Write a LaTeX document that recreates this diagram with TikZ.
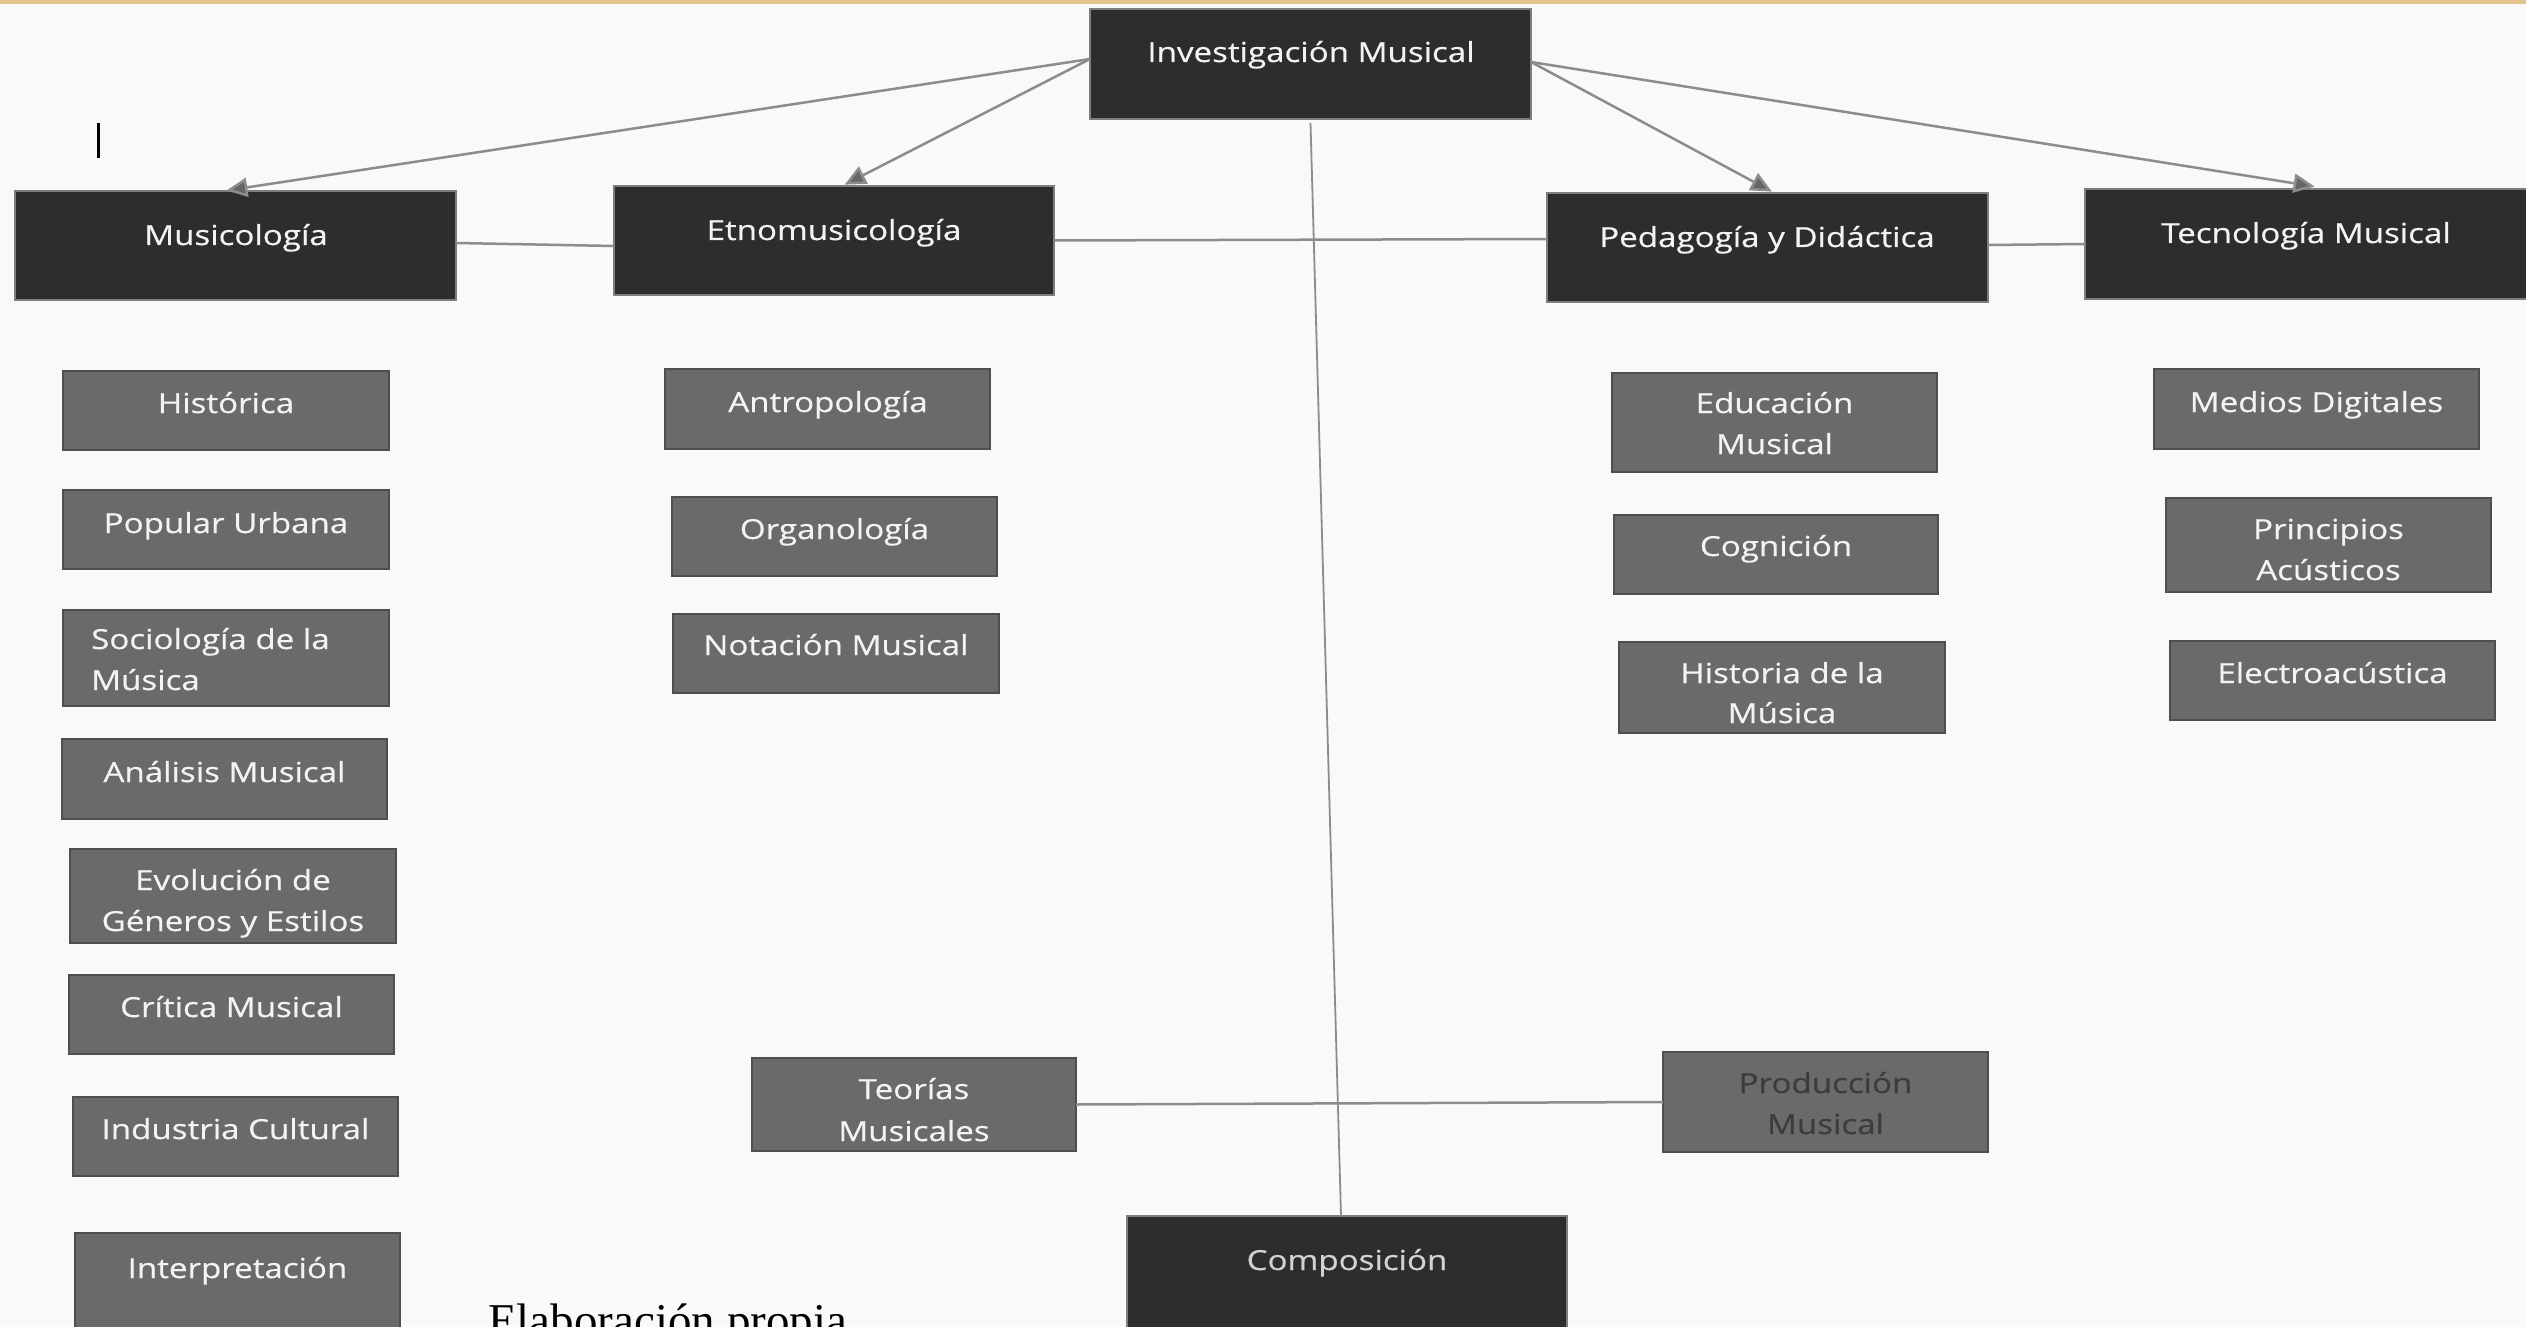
\documentclass[tikz,border=0pt]{standalone}
\usepackage{fontspec}
\setmainfont[FakeStretch=1.2, FakeBold=0.5]{Open Sans}
\newfontfamily\elabfont{Liberation Serif}
\usetikzlibrary{arrows.meta}
\definecolor{bgc}{HTML}{F9F9F9}
\definecolor{goldc}{HTML}{E3C48C}
\definecolor{darkfill}{HTML}{2D2D2D}
\definecolor{darkedge}{HTML}{7E7E7E}
\definecolor{grayfill}{HTML}{6A6A6A}
\definecolor{grayedge}{HTML}{4E4E4E}
\definecolor{linec}{HTML}{8C8C8C}
\definecolor{headc}{HTML}{666666}
\definecolor{txtw}{HTML}{F3F3F3}
\definecolor{txtcomp}{HTML}{D2D2D2}
\definecolor{txtprod}{HTML}{3C3C3C}
\newcommand\mybox[6]{%
  \node[#1, minimum width={(#5-#3)*1bp}, minimum height={(#6-#4)*1bp}] (#2) at ({(#3+#5)/2},{(#4+#6)/2}) {};}
\tikzset{
  darkbox/.style={rectangle, fill=darkfill, draw=darkedge, line width=1.5bp, inner sep=0pt, outer sep=0pt},
  graybox/.style={rectangle, fill=grayfill, draw=grayedge, line width=2.5bp, inner sep=0pt, outer sep=0pt},
  lbl/.style={anchor=base, inner sep=0pt, text=txtw, font=\fontsize{27.6bp}{41bp}\selectfont},
  lblw/.style={lbl, anchor=base west},
  conn/.style={draw=linec, line width=2.5bp},
  arr/.style={conn, -{Triangle[length=21bp, width=19bp, fill=headc]}, shorten >=3bp},
}
\begin{document}
\begin{tikzpicture}[x=1bp, y=-1bp]
\useasboundingbox (0,0) rectangle (2526,1327);
\clip (0,0) rectangle (2526,1327);
\fill[bgc] (0,0) rectangle (2526,1327);
\fill[goldc] (0,0) rectangle (2526,4);

% cursor mark
\draw[black, line width=3bp] (98,123) -- (98,158);

% main dark boxes
\mybox{darkbox}{inv}{1090}{9}{1531}{119}
\mybox{darkbox}{mus}{15}{191}{456}{300}
\mybox{darkbox}{etn}{614}{186}{1054}{295}
\mybox{darkbox}{ped}{1547}{193}{1988}{302}
\mybox{darkbox}{tec}{2085}{189}{2530}{299}
\mybox{darkbox}{comp}{1127}{1216}{1567}{1329}

% gray boxes
\mybox{graybox}{his}{63}{371}{389}{450}
\mybox{graybox}{pop}{63}{490}{389}{569}
\mybox{graybox}{soc}{63}{610}{389}{706}
\mybox{graybox}{ana}{62}{739}{387}{819}
\mybox{graybox}{evo}{70}{849}{396}{943}
\mybox{graybox}{cri}{69}{975}{394}{1054}
\mybox{graybox}{ind}{73}{1097}{398}{1176}
\mybox{graybox}{int}{75}{1233}{400}{1329}
\mybox{graybox}{ant}{665}{369}{990}{449}
\mybox{graybox}{org}{672}{497}{997}{576}
\mybox{graybox}{nota}{673}{614}{999}{693}
\mybox{graybox}{teo}{752}{1058}{1076}{1151}
\mybox{graybox}{edu}{1612}{373}{1937}{472}
\mybox{graybox}{cog}{1614}{515}{1938}{594}
\mybox{graybox}{hmu}{1619}{642}{1945}{733}
\mybox{graybox}{med}{2154}{369}{2479}{449}
\mybox{graybox}{pri}{2166}{498}{2491}{592}
\mybox{graybox}{ele}{2170}{641}{2495}{720}
\mybox{graybox}{prod}{1663}{1052}{1988}{1152}

% connectors
\draw[arr] ([yshift=5bp]inv.west) -- ([xshift=-12bp]mus.north);
\draw[arr] ([yshift=5bp]inv.west) -- ([xshift=8bp]etn.north);
\draw[arr] ([yshift=2bp]inv.east) -- ([xshift=7bp]ped.north);
\draw[arr] ([yshift=2bp]inv.east) -- ([xshift=10bp, yshift=2bp]tec.north);
\draw[conn] ([yshift=2.5bp]mus.east) -- ([yshift=-5.5bp]etn.west);
\draw[conn] (etn.east) -- ([yshift=8.5bp]ped.west);
\draw[conn] ([yshift=2.5bp]ped.east) -- (tec.west);
\draw[draw=linec, line width=1.8bp] ([yshift=-4bp]inv.south) -- ([xshift=-6bp]comp.north);
\draw[conn] (teo.east) -- (prod.west);

% labels
\node[lbl] (inv-t) at (1311,62) {Investigación Musical};
\node[lbl] (mus-t) at (236,245) {Musicología};
\node[lbl] (etn-t) at (834,240) {Etnomusicología};
\node[lbl] (ped-t) at (1767,247) {Pedagogía y Didáctica};
\node[lbl] (tec-t) at (2306,243) {Tecnología Musical};
\node[lbl, text=txtcomp] (comp-t) at (1347,1270) {Composición};

\node[lbl] (his-t) at (226,413) {Histórica};
\node[lbl] (pop-t) at (226,533) {Popular Urbana};
\node[lblw] (soc-t1) at (91,649) {Sociología de la};
\node[lblw] (soc-t2) at (91,690) {Música};
\node[lbl] (ana-t) at (224.5,782) {Análisis Musical};
\node[lbl] (evo-t1) at (233,890) {Evolución de};
\node[lbl] (evo-t2) at (233,931) {Géneros y Estilos};
\node[lbl] (cri-t) at (231.5,1017) {Crítica Musical};
\node[lbl] (ind-t) at (235.5,1139) {Industria Cultural};
\node[lbl] (int-t) at (237.5,1278) {Interpretación};

\node[lbl] (ant-t) at (828,412) {Antropología};
\node[lbl] (org-t) at (834.5,539) {Organología};
\node[lbl] (nota-t) at (836,655) {Notación Musical};
\node[lbl] (teo-t1) at (914,1099) {Teorías};
\node[lbl] (teo-t2) at (914,1141) {Musicales};

\node[lbl] (edu-t1) at (1774.5,413) {Educación};
\node[lbl] (edu-t2) at (1774.5,454) {Musical};
\node[lbl] (cog-t) at (1776,556) {Cognición};
\node[lbl] (hmu-t1) at (1782,683) {Historia de la};
\node[lbl] (hmu-t2) at (1782,723) {Música};
\node[lbl] (med-t) at (2316.5,412) {Medios Digitales};
\node[lbl] (pri-t1) at (2328.5,539) {Principios};
\node[lbl] (pri-t2) at (2328.5,580) {Acústicos};
\node[lbl] (ele-t) at (2332.5,683) {Electroacústica};
\node[lbl, text=txtprod] (prod-t1) at (1825.5,1093) {Producción};
\node[lbl, text=txtprod] (prod-t2) at (1825.5,1134) {Musical};

% source note (cut by the lower edge, as in the reference)
\node[anchor=base west, inner sep=0pt, font=\elabfont\fontsize{47bp}{50bp}\selectfont, text=black] (src) at (488,1336) {Elaboración propia};
\end{tikzpicture}
\end{document}
